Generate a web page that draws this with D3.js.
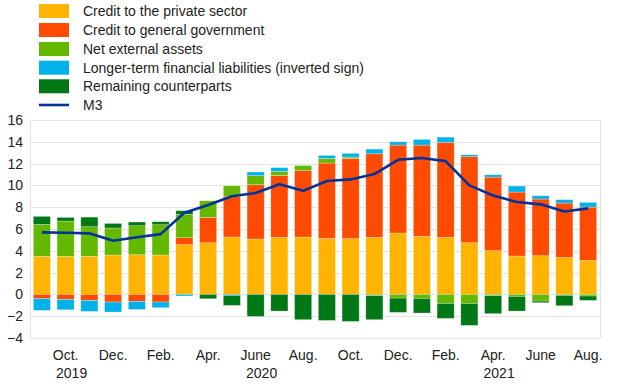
<!DOCTYPE html>
<html>
<head>
<meta charset="utf-8">
<script src="https://cdn.jsdelivr.net/npm/d3@7"></script>
<style>
  html, body { margin: 0; padding: 0; background: #fff; }
  svg { display: block; font-family: "Liberation Sans", Arial, Helvetica, sans-serif; }
</style>
</head>
<body>
<svg id="chart" width="620" height="387"></svg>
<script>
// ---- Data (percentage contributions, annual growth) ----
const months = ["2019-09","2019-10","2019-11","2019-12","2020-01","2020-02","2020-03","2020-04","2020-05","2020-06","2020-07","2020-08",
                "2020-09","2020-10","2020-11","2020-12","2021-01","2021-02","2021-03","2021-04","2021-05","2021-06","2021-07","2021-08"];
const privateSector = [3.49,3.49,3.49,3.61,3.64,3.61,4.56,4.74,5.26,5.08,5.23,5.26,5.14,5.11,5.23,5.63,5.32,5.23,4.74,4.01,3.52,3.55,3.39,3.12];
const generalGov    = [-0.40,-0.46,-0.55,-0.70,-0.64,-0.70,0.64,2.32,3.72,4.98,5.69,6.09,6.91,7.37,7.67,8.07,8.38,8.71,7.89,6.75,5.87,5.20,4.99,4.89];
const netExternal   = [2.93,3.24,2.72,2.48,2.66,2.78,2.14,1.53,0.99,0.83,0.37,0.47,0.43,0.12,-0.12,-0.34,-0.37,-0.83,-0.83,-0.12,-0.18,-0.61,-0.09,-0.15];
const longerTerm    = [-1.07,-0.95,-1.01,-0.92,-0.74,-0.52,-0.15,0.00,-0.09,0.34,0.34,0.00,0.27,0.34,0.43,0.30,0.52,0.49,0.18,0.22,0.55,0.30,0.31,0.43];
const remaining     = [0.74,0.33,0.88,0.42,0.34,0.28,0.34,-0.40,-0.92,-2.02,-1.53,-2.32,-2.39,-2.48,-2.20,-1.31,-1.34,-1.37,-2.01,-1.65,-1.35,-0.15,-0.95,-0.40];
const m3            = [5.69,5.66,5.60,4.92,5.25,5.53,7.49,8.20,9.00,9.30,10.10,9.50,10.40,10.55,11.04,12.35,12.51,12.23,10.00,9.08,8.47,8.26,7.61,7.89];

const seriesNames = ["Credit to the private sector","Credit to general government","Net external assets",
                     "Longer-term financial liabilities (inverted sign)","Remaining counterparts"];
const seriesColors = ["#ffb400","#ff4b00","#65b800","#00b1ea","#007816"];
const lineName = "M3";
const lineColor = "#003299";
const yTicks = [-4,-2,0,2,4,6,8,10,12,14,16];
const monthTickLabels = {"2019-10":"Oct.","2019-12":"Dec.","2020-02":"Feb.","2020-04":"Apr.","2020-06":"June","2020-08":"Aug.",
                         "2020-10":"Oct.","2020-12":"Dec.","2021-02":"Feb.","2021-04":"Apr.","2021-06":"June","2021-08":"Aug."};
const years = ["2019","2020","2021"];
const yearAnchors = ["2019-10","2020-06","2021-04"];

// ---- Layout ----
const svg = d3.select("#chart");
const plot = {left: 30, right: 600, top: 120, bottom: 338};

const keys = ["p","g","n","l","r"];
const table = months.map((m,i) => ({month: m, p: privateSector[i], g: generalGov[i], n: netExternal[i], l: longerTerm[i], r: remaining[i], m3: m3[i]}));

const x = d3.scaleBand().domain(months).range([plot.left, plot.right]).paddingInner(0.28).paddingOuter(0.14);
const y = d3.scaleLinear().domain([-4,16]).range([plot.bottom, plot.top]);

// grid
svg.append("g").selectAll("line").data(yTicks).join("line")
  .attr("x1", plot.left).attr("x2", plot.right)
  .attr("y1", d => Math.round(y(d)) + 0.5).attr("y2", d => Math.round(y(d)) + 0.5)
  .attr("stroke", "#e3e3e3").attr("stroke-width", 1);
svg.append("line").attr("x1", plot.left + 0.5).attr("x2", plot.left + 0.5).attr("y1", y(16)).attr("y2", y(-4))
  .attr("stroke", "#e3e3e3");
svg.append("line").attr("x1", plot.right + 0.5).attr("x2", plot.right + 0.5).attr("y1", y(16)).attr("y2", y(-4))
  .attr("stroke", "#e3e3e3");

// y axis labels
const yAxis = d3.axisLeft(y).tickValues(yTicks).tickSize(0).tickPadding(0);
const gy = svg.append("g").attr("transform", `translate(23,0)`).call(yAxis);
gy.select(".domain").remove();
gy.selectAll("text").attr("font-size", 14).attr("fill", "#222").attr("font-family", "Liberation Sans, Arial, sans-serif");

// stacked bars
const stack = d3.stack().keys(keys).offset(d3.stackOffsetDiverging);
const stacked = stack(table);
svg.append("g").selectAll("g").data(stacked).join("g")
  .attr("fill", (d,i) => seriesColors[i])
  .selectAll("rect").data(d => d).join("rect")
  .attr("x", d => x(d.data.month))
  .attr("width", x.bandwidth())
  .attr("y", d => y(Math.max(d[0], d[1])))
  .attr("height", d => Math.abs(y(d[0]) - y(d[1])))
  .attr("stroke", "#ffffff").attr("stroke-opacity", 0.45).attr("stroke-width", 0.6);

// M3 line
const line = d3.line().x(d => x(d.month) + x.bandwidth()/2).y(d => y(d.m3));
svg.append("path").datum(table).attr("d", line)
  .attr("fill", "none").attr("stroke", lineColor).attr("stroke-width", 2.6).attr("stroke-linejoin", "round");

// x axis labels
const xAxis = d3.axisBottom(x).tickValues(Object.keys(monthTickLabels)).tickFormat(d => monthTickLabels[d]).tickSize(0).tickPadding(0);
const gx = svg.append("g").attr("transform", `translate(0,350)`).call(xAxis);
gx.select(".domain").remove();
gx.selectAll("text").attr("font-size", 14).attr("fill", "#222").attr("font-family", "Liberation Sans, Arial, sans-serif");

// year labels
const yearG = svg.append("g");
years.forEach((yr, i) => {
  const cx = x(yearAnchors[i]) + x.bandwidth() / 2 + 6;
  yearG.append("text").attr("x", cx).attr("y", 378).attr("text-anchor", "middle")
    .attr("font-size", 14).attr("fill", "#222").text(yr);
});

// legend
const leg = svg.append("g");
const rowY = [11, 30, 49, 67.7, 86.3, 105];
seriesNames.forEach((name, i) => {
  leg.append("rect").attr("x", 39).attr("y", rowY[i] - 7).attr("width", 30).attr("height", 14).attr("fill", seriesColors[i]);
  leg.append("text").attr("x", 83).attr("y", rowY[i]).attr("dy", "0.35em").attr("font-size", 14).attr("fill", "#222").text(name);
});
leg.append("line").attr("x1", 39).attr("x2", 69).attr("y1", rowY[5]).attr("y2", rowY[5]).attr("stroke", lineColor).attr("stroke-width", 2.6);
leg.append("text").attr("x", 83).attr("y", rowY[5]).attr("dy", "0.35em").attr("font-size", 14).attr("fill", "#222").text(lineName);
</script>
</body>
</html>
